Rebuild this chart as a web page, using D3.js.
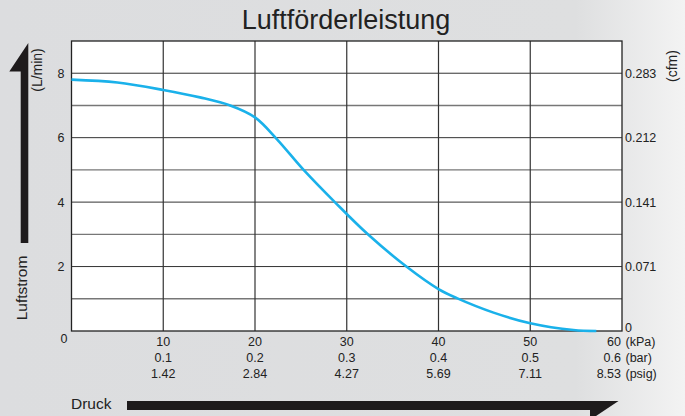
<!DOCTYPE html>
<html>
<head>
<meta charset="utf-8">
<script src="https://cdn.jsdelivr.net/npm/d3@7"></script>
<style>
  body { margin: 0; }
  svg { display: block; font-family: 'Liberation Sans', Arial, sans-serif; }
</style>
</head>
<body>
<div id="chart"></div>
<script>
// curve (kPa vs L/min)
const pressure = [0, 5, 10, 14, 17.3, 20, 22.4, 25.3, 28.7, 32.3, 36.5, 40, 42, 46, 50, 54.7, 57.2];
const flow = [7.8, 7.71, 7.48, 7.25, 7.0, 6.63, 5.95, 5.0, 4.0, 3.0, 2.0, 1.3, 1.02, 0.57, 0.24, 0.03, 0.0];

const kpaTicks = [10, 20, 30, 40, 50, 60];
const barLabels = ['0.1', '0.2', '0.3', '0.4', '0.5', '0.6'];
const psigLabels = ['1.42', '2.84', '4.27', '5.69', '7.11', '8.53'];
const flowTicks = [0, 2, 4, 6, 8];
const cfmLabels = ['0', '0.071', '0.141', '0.212', '0.283'];

const svgWidth = 685;
const svgHeight = 416;
const marginTop = 41;
const marginRight = 63;
const marginBottom = 85;
const marginLeft = 71.5;

const svg = d3.select('#chart')
  .append('svg')
  .attr('width', svgWidth)
  .attr('height', svgHeight);

// background gradient
const grad = svg.append('defs').append('linearGradient')
  .attr('id', 'bg').attr('x1', 0).attr('x2', 1).attr('y1', 0).attr('y2', 0);
grad.append('stop').attr('offset', '0%').attr('stop-color', '#dcdddf');
grad.append('stop').attr('offset', '84%').attr('stop-color', '#dedfe0');
grad.append('stop').attr('offset', '100%').attr('stop-color', '#f3f3f3');
svg.append('rect').attr('width', svgWidth).attr('height', svgHeight).attr('fill', 'url(#bg)');

const xScale = d3.scaleLinear().domain([0, 60]).range([marginLeft, svgWidth - marginRight]);
const yScale = d3.scaleLinear().domain([0, 9]).range([svgHeight - marginBottom, marginTop]);

// plot area
svg.append('rect')
  .attr('x', xScale(0)).attr('y', yScale(9))
  .attr('width', xScale(60) - xScale(0)).attr('height', yScale(0) - yScale(9))
  .attr('fill', 'white');

// horizontal grid
svg.append('g')
  .selectAll('line')
  .data(d3.range(1, 9))
  .join('line')
  .attr('x1', xScale(0)).attr('x2', xScale(60))
  .attr('y1', (d) => yScale(d)).attr('y2', (d) => yScale(d))
  .attr('stroke', (d) => (d % 2 === 0 ? '#333' : '#777'))
  .attr('stroke-width', (d) => (d % 2 === 0 ? 1 : 1.4));

// vertical grid
svg.append('g')
  .selectAll('line')
  .data(kpaTicks.slice(0, -1))
  .join('line')
  .attr('x1', (d) => xScale(d)).attr('x2', (d) => xScale(d))
  .attr('y1', yScale(9)).attr('y2', yScale(0))
  .attr('stroke', '#333')
  .attr('stroke-width', 1.2);

svg.append('rect')
  .attr('x', xScale(0)).attr('y', yScale(9))
  .attr('width', xScale(60) - xScale(0)).attr('height', yScale(0) - yScale(9))
  .attr('fill', 'none').attr('stroke', '#222').attr('stroke-width', 1.3);

// curve
const points = pressure.map((p, i) => [p, flow[i]]);
svg.append('path')
  .datum(points)
  .attr('fill', 'none')
  .attr('stroke', '#1ab1ea')
  .attr('stroke-width', 2.6)
  .attr('d', d3.line()
    .x((d) => xScale(d[0]))
    .y((d) => yScale(d[1]))
    .curve(d3.curveCatmullRom.alpha(0.5)));

// title
svg.append('text')
  .attr('x', 346).attr('y', 29)
  .attr('text-anchor', 'middle')
  .attr('font-size', 27)
  .attr('fill', '#222')
  .text('Luftförderleistung');

const tickColor = '#222';
// left labels
svg.append('g')
  .selectAll('text')
  .data(flowTicks.filter((d) => d > 0))
  .join('text')
  .attr('x', xScale(0) - 7).attr('y', (d) => yScale(d) + 4.5)
  .attr('text-anchor', 'end').attr('font-size', 12.5).attr('fill', tickColor)
  .text((d) => d);
svg.append('text')
  .attr('x', xScale(0) - 4).attr('y', yScale(0) + 12)
  .attr('text-anchor', 'end').attr('font-size', 12.5).attr('fill', tickColor)
  .text('0');

// right labels
svg.append('g')
  .selectAll('text')
  .data(flowTicks)
  .join('text')
  .attr('x', xScale(60) + 3).attr('y', (d, i) => yScale(d) + (i === 0 ? 1 : 4.5))
  .attr('font-size', 12.5).attr('fill', tickColor)
  .text((d, i) => cfmLabels[i]);

// bottom labels, three rows
const rows = [kpaTicks.map(String), barLabels, psigLabels];
const rowBase = [346, 362, 378];
const units = ['(kPa)', '(bar)', '(psig)'];
rows.forEach((labels, r) => {
  svg.append('g')
    .selectAll('text')
    .data(labels)
    .join('text')
    .attr('x', (d, i) => (i === labels.length - 1 ? xScale(kpaTicks[i]) - 1 : xScale(kpaTicks[i])))
    .attr('y', rowBase[r])
    .attr('text-anchor', (d, i) => (i === labels.length - 1 ? 'end' : 'middle'))
    .attr('font-size', 12.5).attr('fill', tickColor)
    .text((d) => d);
  svg.append('text')
    .attr('x', xScale(60) + 3.5).attr('y', rowBase[r])
    .attr('font-size', 12.5).attr('fill', tickColor)
    .text(units[r]);
});

// unit labels rotated
svg.append('text')
  .attr('transform', 'translate(42,70) rotate(-90)')
  .attr('text-anchor', 'middle').attr('font-size', 14).attr('fill', tickColor)
  .text('(L/min)');
svg.append('text')
  .attr('transform', 'translate(677,66) rotate(-90)')
  .attr('text-anchor', 'middle').attr('font-size', 14).attr('fill', tickColor)
  .text('(cfm)');

// axis names
svg.append('text')
  .attr('transform', 'translate(26.5,288) rotate(-90)')
  .attr('text-anchor', 'middle').attr('font-size', 15.5).attr('fill', tickColor)
  .text('Luftstrom');
svg.append('text')
  .attr('x', 71).attr('y', 409)
  .attr('font-size', 15.5).attr('fill', tickColor)
  .text('Druck');

// arrows
svg.append('path')
  .attr('fill', '#1e1b1c')
  .attr('d', 'M28.3,43 L28.3,243 L20.7,243 L20.7,71.5 L9.3,71.5 Z');
svg.append('path')
  .attr('fill', '#1e1b1c')
  .attr('d', 'M127,401 L618.5,401 L590,420 L590,410 L127,410 Z');
</script>
</body>
</html>
